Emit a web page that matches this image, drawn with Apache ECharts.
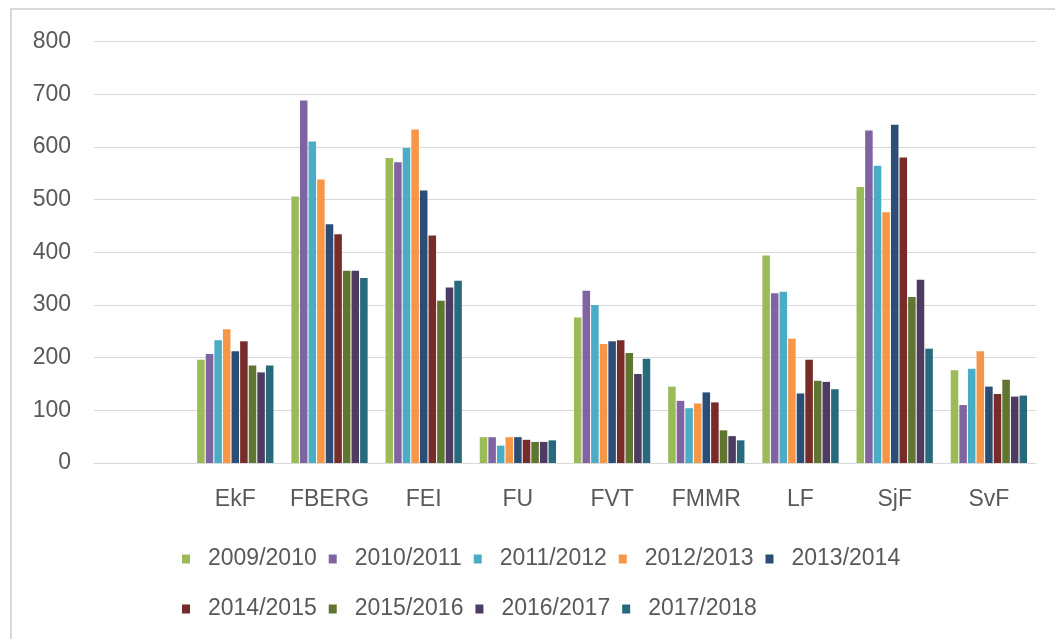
<!DOCTYPE html>
<html>
<head>
<meta charset="utf-8">
<script src="https://cdn.jsdelivr.net/npm/echarts@6/dist/echarts.min.js"></script>
<style>
  html, body { margin: 0; padding: 0; background: #fff; }
  #frame { position: absolute; left: 10px; top: 8px; width: 1100px; height: 700px;
           border-left: 2px solid #d9d9d9; border-top: 2px solid #d9d9d9; }
  #main { position: absolute; left: 0; top: 0; width: 1055px; height: 639px; }
</style>
</head>
<body>
<div id="frame"></div>
<div id="main"></div>
<script>
// categories (first one is empty, as in the original)
let faculties = ['', 'EkF', 'FBERG', 'FEI', 'FU', 'FVT', 'FMMR', 'LF', 'SjF', 'SvF'];
let years = ['2009/2010', '2010/2011', '2011/2012', '2012/2013', '2013/2014',
             '2014/2015', '2015/2016', '2016/2017', '2017/2018'];
let yTicks = [0, 100, 200, 300, 400, 500, 600, 700, 800];

// values per academic year, EkF..SvF
let y2009 = [196, 506, 579, 49, 276, 145, 394, 524, 176];
let y2010 = [207, 688, 571, 49, 327, 118, 322, 631, 110];
let y2011 = [233, 610, 598, 33, 300, 104, 325, 564, 179];
let y2012 = [254, 538, 633, 49, 226, 113, 236, 476, 212];
let y2013 = [212, 453, 517, 49, 231, 134, 132, 642, 145];
let y2014 = [231, 434, 432, 44, 233, 115, 196, 580, 131];
let y2015 = [185, 365, 308, 40, 209, 62, 156, 315, 158];
let y2016 = [172, 365, 333, 40, 169, 51, 154, 348, 126];
let y2017 = [185, 351, 346, 43, 198, 43, 140, 217, 128];

let values = [y2009, y2010, y2011, y2012, y2013, y2014, y2015, y2016, y2017];
let colors = ['#9bbb59', '#8064a2', '#4bacc6', '#f79646', '#2c4d75',
              '#772c2a', '#5f7530', '#4d3b62', '#276a7c'];

let font = 'Liberation Sans';
let container = document.getElementById('main');
let chart = echarts.init(container);

let series = years.map((y, i) => ({
    name: y,
    type: 'bar',
    barGap: '14%',
    barCategoryGap: '19%',
    itemStyle: { color: colors[i] },
    emphasis: { disabled: true },
    data: ['-'].concat(values[i])
}));

chart.setOption({
    animation: false,
    color: colors,
    grid: { left: 94, right: 19, top: 41.5, bottom: 176 },
    legend: {
        left: 177,
        top: 535,
        width: 740,
        itemWidth: 8,
        itemHeight: 9,
        itemGap: 12,
        icon: 'rect',
        textStyle: {
            fontFamily: font,
            fontSize: 23,
            color: '#595959',
            lineHeight: 38,
            padding: [0, 0, 0, 13]
        },
        data: years
    },
    xAxis: {
        type: 'category',
        data: faculties,
        axisLine: { lineStyle: { color: '#d9d9d9', width: 1 } },
        axisTick: { show: false },
        axisLabel: { fontFamily: font, fontSize: 23, color: '#595959', margin: 25, interval: 0 }
    },
    yAxis: {
        type: 'value',
        min: yTicks[0],
        max: yTicks[yTicks.length - 1],
        interval: 100,
        axisLine: { show: false },
        axisTick: { show: false },
        splitLine: { lineStyle: { color: '#d9d9d9', width: 1 } },
        axisLabel: { fontFamily: font, fontSize: 23, color: '#595959', margin: 23 }
    },
    series: series
});
</script>
</body>
</html>
